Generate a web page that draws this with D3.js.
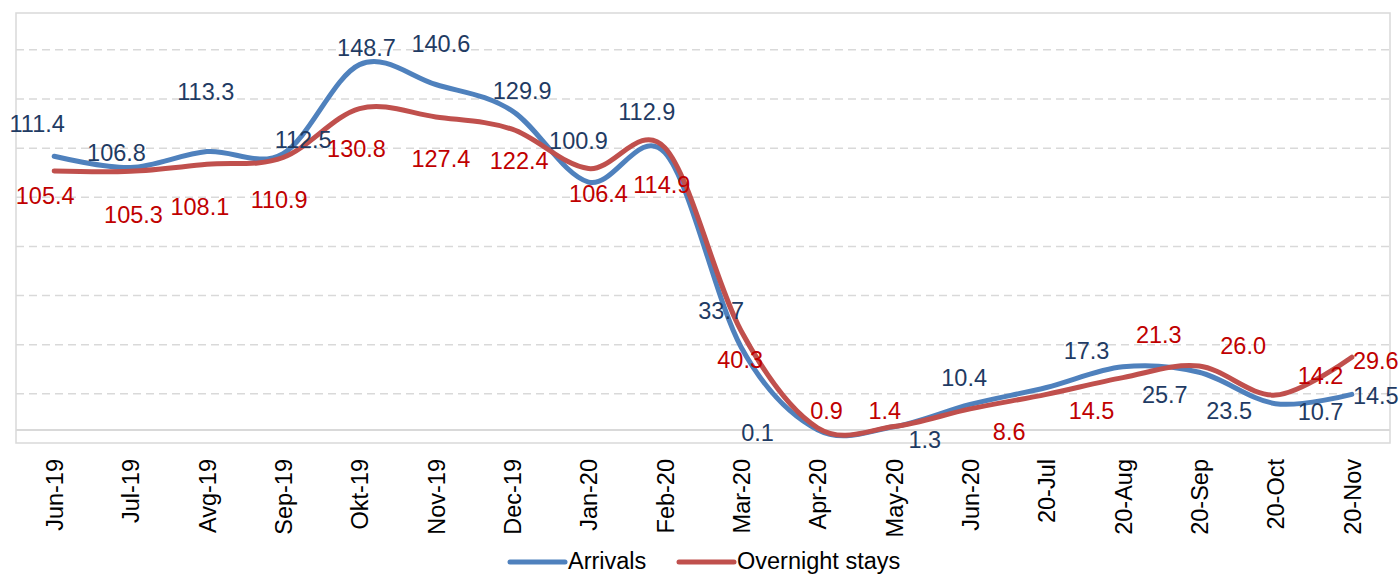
<!DOCTYPE html>
<html>
<head>
<meta charset="utf-8">
<script src="https://cdn.jsdelivr.net/npm/d3@7"></script>
<style>
  html, body { margin: 0; padding: 0; background: #ffffff; }
  svg { display: block; font-family: "Liberation Sans", Arial, sans-serif; }
</style>
</head>
<body>
<svg id="chart" width="1400" height="575"></svg>
<script>
// ---- data ----
const categories = ["Jun-19","Jul-19","Avg-19","Sep-19","Okt-19","Nov-19","Dec-19","Jan-20","Feb-20","Mar-20","Apr-20","May-20","Jun-20","20-Jul","20-Aug","20-Sep","20-Oct","20-Nov"];
const arrivals = [111.4,106.8,113.3,112.5,148.7,140.6,129.9,100.9,112.9,33.7,0.1,1.3,10.4,17.3,25.7,23.5,10.7,14.5];
const overnightStays = [105.4,105.3,108.1,110.9,130.8,127.4,122.4,106.4,114.9,40.3,0.9,1.4,8.6,14.5,21.3,26.0,14.2,29.6];
const seriesNames = ["Arrivals","Overnight stays"];
const gridValues = [14.7,34.7,54.7,74.7,94.7,114.7,134.7,154.7];
const yDomain = [-5.3, 169.7];

// ---- label nudges (layout only, px relative to the point) ----
const arrivalsLabelOffsets = [[-17,-24],[-14,-7],[-1,-52],[20,-6],[7,-9],[5,-33],[10,-12],[-10,-33],[-18,-33],[-20,-28],[-60,11],[31,21],[-6,-18],[40,-28],[42,36],[30,47],[45,16],[24,10]];
const overnightLabelOffsets = [[-9,33],[3,52],[-7,51],[-4,51],[-3,48],[5,50],[7,40],[10,33],[-3,45],[-1,37],[9,-9],[-9,-8],[39,31],[45,25],[36,-35],[44,-12],[45,-11],[24,12]];

// ---- layout ----
const plot = {left: 16, right: 1390, top: 13, bottom: 443};
const svg = d3.select("#chart");

const x = d3.scalePoint().domain(categories).range([plot.left, plot.right]).padding(0.5);
const y = d3.scaleLinear().domain(yDomain).range([plot.bottom, plot.top]);

const gridColor = "#d9d9d9";

// gridlines
svg.append("g").selectAll("line").data(gridValues).join("line")
  .attr("x1", plot.left).attr("x2", plot.right)
  .attr("y1", d => y(d)).attr("y2", d => y(d))
  .attr("stroke", gridColor).attr("stroke-width", 1.5)
  .attr("stroke-dasharray", "8,5");

// plot border
svg.append("rect")
  .attr("x", plot.left).attr("y", plot.top)
  .attr("width", plot.right - plot.left).attr("height", plot.bottom - plot.top)
  .attr("fill", "none").attr("stroke", gridColor).attr("stroke-width", 1.5);

// category axis at 0
const xAxis = d3.axisBottom(x).tickSize(0).tickPadding(0);
const gx = svg.append("g").attr("transform", `translate(0,${y(0)})`).call(xAxis);
gx.select(".domain").attr("stroke", gridColor).attr("stroke-width", 2)
  .attr("d", `M${plot.left},0H${plot.right}`);
gx.selectAll(".tick text")
  .attr("font-family", "Liberation Sans, Arial, sans-serif")
  .attr("font-size", "23.5px")
  .attr("fill", "#000")
  .attr("text-anchor", "end")
  .attr("dy", "0.35em")
  .attr("transform", `translate(0,${plot.bottom + 16 - y(0)}) rotate(-90)`)
  .attr("y", 0).attr("x", 0);

// lines
const line = d3.line()
  .x((d, i) => x(categories[i]))
  .y(d => y(d))
  .curve(d3.curveCardinal.tension(0));

const series = [
  {name: seriesNames[0], values: arrivals, color: "#4f81bd", labelColor: "#1f3b63", offsets: arrivalsLabelOffsets},
  {name: seriesNames[1], values: overnightStays, color: "#c0504d", labelColor: "#c00000", offsets: overnightLabelOffsets}
];

series.forEach(s => {
  svg.append("path")
    .datum(s.values)
    .attr("d", line)
    .attr("fill", "none")
    .attr("stroke", s.color)
    .attr("stroke-width", 5)
    .attr("stroke-linecap", "round")
    .attr("stroke-linejoin", "round");
});

series.forEach(s => {
  svg.append("g").selectAll("text").data(s.values).join("text")
    .attr("x", (d, i) => x(categories[i]) + s.offsets[i][0])
    .attr("y", (d, i) => y(d) + s.offsets[i][1])
    .attr("text-anchor", "middle")
    .attr("font-size", "23.5px")
    .attr("fill", s.labelColor)
    .text(d => d.toFixed(1));
});

// legend
const legend = svg.append("g");
const legendItems = [
  {name: seriesNames[0], color: series[0].color, x0: 510},
  {name: seriesNames[1], color: series[1].color, x0: 679}
];
legendItems.forEach(it => {
  legend.append("line")
    .attr("x1", it.x0).attr("x2", it.x0 + 55)
    .attr("y1", 562).attr("y2", 562)
    .attr("stroke", it.color).attr("stroke-width", 5)
    .attr("stroke-linecap", "round");
  legend.append("text")
    .attr("x", it.x0 + 58).attr("y", 569)
    .attr("font-size", "23.5px").attr("fill", "#000")
    .text(it.name);
});
</script>
</body>
</html>
